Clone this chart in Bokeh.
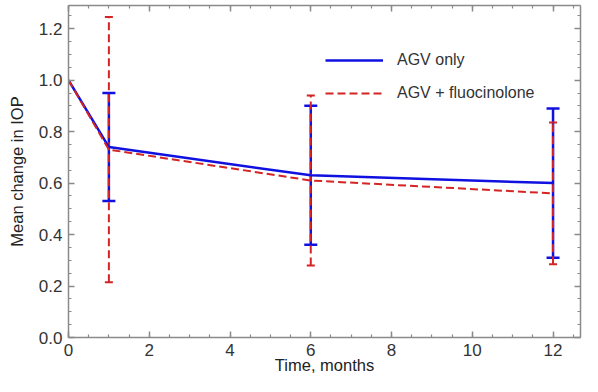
from bokeh.plotting import figure
from bokeh.models import ColumnDataSource, Whisker, TeeHead, LinearAxis, Range1d, Legend, LegendItem, SingleIntervalTicker, CustomJSTickFormatter
from bokeh.embed import file_html
from bokeh.resources import INLINE

months = [0, 1, 6, 12]
agv_mean = [1.0, 0.74, 0.63, 0.60]
agv_lower = [1.0, 0.53, 0.36, 0.31]
agv_upper = [1.0, 0.95, 0.90, 0.89]
fluo_mean = [1.0, 0.73, 0.61, 0.56]
fluo_lower = [1.0, 0.215, 0.28, 0.285]
fluo_upper = [1.0, 1.245, 0.94, 0.835]

BLUE = "#1010e0"
RED = "#d42424"
FONT = "Liberation Sans"
AX = "#8a8a8a"
TXT = "#333333"

p = figure(width=582, height=376, output_backend="svg", toolbar_location=None,
           x_range=Range1d(0, 12.68), y_range=Range1d(0, 1.29),
           min_border_left=68, min_border_top=5, min_border_right=2, min_border_bottom=30)
p.grid.visible = False
p.outline_line_color = None
p.background_fill_color = "white"

src_a = ColumnDataSource(dict(x=months[1:], lo=agv_lower[1:], hi=agv_upper[1:]))
src_f = ColumnDataSource(dict(x=months[1:], lo=fluo_lower[1:], hi=fluo_upper[1:]))

la = p.line(months, agv_mean, line_color=BLUE, line_width=2.5)
wa = Whisker(source=src_a, base="x", lower="lo", upper="hi", line_color=BLUE, line_width=2.5,
             upper_head=TeeHead(size=13, line_color=BLUE, line_width=2.5),
             lower_head=TeeHead(size=13, line_color=BLUE, line_width=2.5))
p.add_layout(wa)
lf = p.line(months, fluo_mean, line_color=RED, line_width=2, line_dash="8 4")
wf = Whisker(source=src_f, base="x", lower="lo", upper="hi", line_color=RED, line_width=2,
             line_dash="8 4",
             upper_head=TeeHead(size=8, line_color=RED, line_width=2),
             lower_head=TeeHead(size=8, line_color=RED, line_width=2))
p.add_layout(wf)

def style(ax):
    ax.axis_line_color = AX
    ax.axis_line_width = 1.5
    ax.major_tick_line_color = AX
    ax.minor_tick_line_color = AX
    ax.major_tick_line_width = 1.5
    ax.minor_tick_line_width = 1.2
    ax.major_tick_in = 6
    ax.major_tick_out = 0
    ax.minor_tick_in = 3
    ax.minor_tick_out = 0
    ax.major_label_text_font = FONT
    ax.major_label_text_font_size = "17px"
    ax.major_label_text_color = TXT
    ax.axis_label_text_font = FONT
    ax.axis_label_text_font_size = "16.5px"
    ax.axis_label_text_font_style = "normal"
    ax.axis_label_text_color = "#222222"

p.xaxis.ticker = SingleIntervalTicker(interval=2, num_minor_ticks=4)
p.yaxis.ticker = SingleIntervalTicker(interval=0.2, num_minor_ticks=4)
p.xaxis.axis_label = "Time, months"
p.yaxis.axis_label = "Mean change in IOP"
p.yaxis.formatter = CustomJSTickFormatter(code="return tick.toFixed(1);")
style(p.xaxis[0])
style(p.yaxis[0])
p.xaxis.major_label_standoff = 6
p.xaxis.axis_label_standoff = -3
p.yaxis.major_label_standoff = 6
p.yaxis.axis_label_standoff = 10

empty = CustomJSTickFormatter(code="return '';")
top = LinearAxis(ticker=SingleIntervalTicker(interval=2, num_minor_ticks=4), formatter=empty)
right = LinearAxis(ticker=SingleIntervalTicker(interval=0.2, num_minor_ticks=4), formatter=empty)
for ax in (top, right):
    style(ax)
    ax.major_label_standoff = 0
    ax.major_label_text_font_size = "1px"
p.add_layout(top, "above")
p.add_layout(right, "right")

legend = Legend(items=[LegendItem(label="AGV only", renderers=[la]),
                       LegendItem(label="AGV + fluocinolone", renderers=[lf])],
                location=(257, 234), border_line_color=None, background_fill_alpha=0,
                padding=0, margin=0, spacing=13, glyph_width=58, glyph_height=20,
                label_height=20, label_standoff=14,
                label_text_font=FONT, label_text_font_size="16px", label_text_color=TXT)
p.add_layout(legend)

open("out.html", "w").write(file_html(p, INLINE))
